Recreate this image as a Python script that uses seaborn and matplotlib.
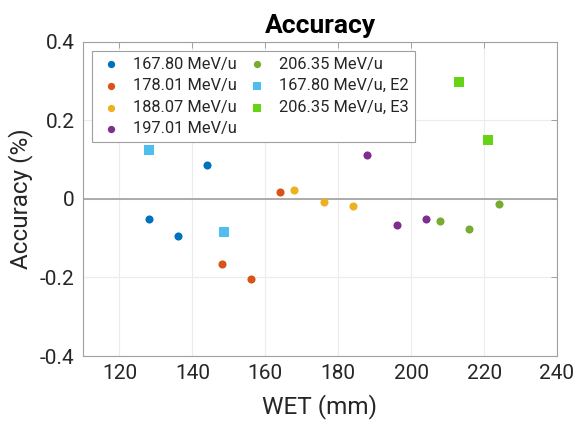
import matplotlib
matplotlib.use("Agg")
import matplotlib.pyplot as plt
import seaborn as sns
import pandas as pd

# ---- data ----
labels = ["167.80 MeV/u", "178.01 MeV/u", "188.07 MeV/u", "197.01 MeV/u",
          "206.35 MeV/u", "167.80 MeV/u, E2", "206.35 MeV/u, E3"]
wet_16780 = [128, 136, 144]
acc_16780 = [-0.051, -0.095, 0.086]
wet_17801 = [148, 156, 164]
acc_17801 = [-0.165, -0.205, 0.019]
wet_18807 = [168, 176, 184]
acc_18807 = [0.022, -0.008, -0.017]
wet_19701 = [188, 196, 204]
acc_19701 = [0.113, -0.067, -0.051]
wet_20635 = [208, 216, 224]
acc_20635 = [-0.057, -0.077, -0.012]
wet_e2 = [128, 148.8]
acc_e2 = [0.126, -0.084]
wet_e3 = [213, 221]
acc_e3 = [0.298, 0.151]
x_ticks = [120, 140, 160, 180, 200, 220, 240]
y_ticks = [-0.4, -0.2, 0, 0.2, 0.4]
y_tick_labels = ["-0.4", "-0.2", "0", "0.2", "0.4"]

colors = ["#0072BD", "#D95319", "#EDB120", "#7E2F8E", "#77AC30", "#4DBEEE", "#64D414"]
markers = ["o", "o", "o", "o", "o", "s", "s"]
sizes = [34, 34, 34, 34, 34, 44, 44]

wets = [wet_16780, wet_17801, wet_18807, wet_19701, wet_20635, wet_e2, wet_e3]
accs = [acc_16780, acc_17801, acc_18807, acc_19701, acc_20635, acc_e2, acc_e3]

sns.set_style("white")
plt.rcParams["font.family"] = ["Roboto", "DejaVu Sans"]

fig = plt.figure(figsize=(5.77, 4.23), dpi=100)
ax = fig.add_axes([83 / 577, (423 - 356) / 423, 474 / 577, 314 / 423])

ax.axhline(0, color="#a6a6a6", lw=1.3, zorder=1)

for lab, w, a, c, m, s in zip(labels, wets, accs, colors, markers, sizes):
    df = pd.DataFrame({"WET": w, "Accuracy": a})
    sns.scatterplot(data=df, x="WET", y="Accuracy", ax=ax, color=c, marker=m,
                    s=s, linewidth=0, label=lab, zorder=3)

ax.set_xlim(110, 240)
ax.set_ylim(-0.4, 0.4)
ax.set_xticks(x_ticks)
ax.set_yticks(y_ticks)
ax.set_yticklabels(y_tick_labels)
ax.grid(True, color="#ececec", lw=0.8, zorder=0)
ax.set_axisbelow(True)
ax.tick_params(direction="in", top=True, right=True, length=4, width=0.7,
               colors="#a0a0a0", labelcolor="#262626", labelsize=15, pad=6)
for sp in ax.spines.values():
    sp.set_color("#a0a0a0")
    sp.set_linewidth(0.8)

ax.set_xlabel("WET (mm)", fontsize=17.5, color="#262626", labelpad=8)
ax.set_ylabel("Accuracy (%)", fontsize=17.5, color="#262626", labelpad=5)
ax.set_title("Accuracy", fontsize=19, fontweight="bold", color="black", pad=6.5)

leg = ax.legend(ncol=2, loc="upper left", bbox_to_anchor=(9 / 474, 1 - 9 / 314),
                borderaxespad=0, fontsize=11.8, frameon=True, fancybox=False,
                framealpha=1, edgecolor="#a0a0a0", handletextpad=0.55,
                columnspacing=0.45, labelspacing=0.4, borderpad=0.35,
                handlelength=1.6, markerscale=0.9)
leg.get_frame().set_linewidth(0.8)
for t in leg.get_texts():
    t.set_color("#262626")

fig.savefig("out.png", dpi=100)
